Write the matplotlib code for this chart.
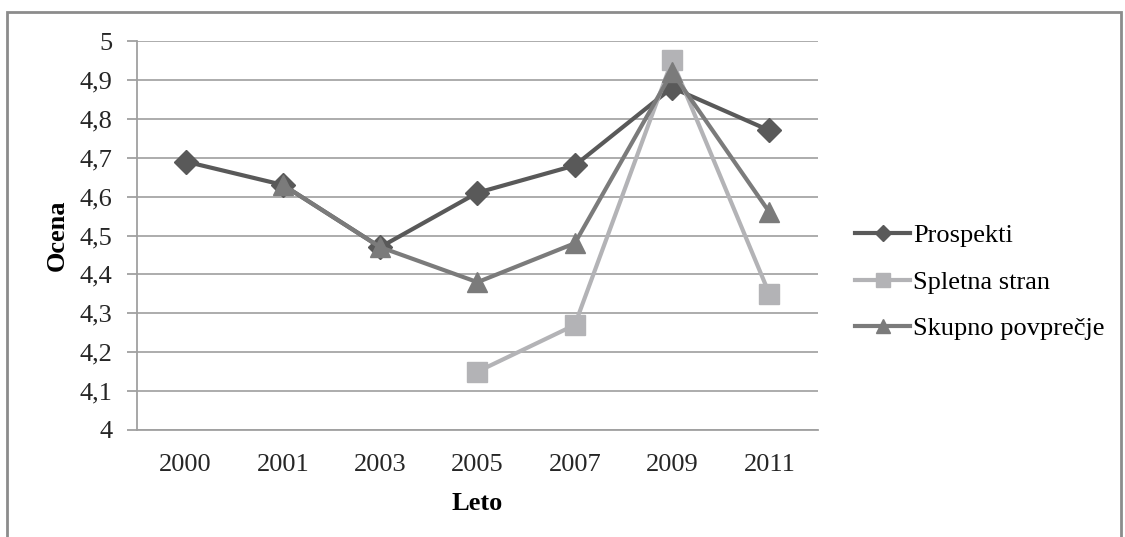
import numpy as np
import matplotlib
matplotlib.use("Agg")
import matplotlib.pyplot as plt
from matplotlib.patches import Rectangle
from matplotlib.ticker import FuncFormatter, MultipleLocator

plt.rcParams['font.family'] = ['Liberation Serif', 'DejaVu Serif']

years = ["2000", "2001", "2003", "2005", "2007", "2009", "2011"]
prospekti = [4.69, 4.63, 4.47, 4.61, 4.68, 4.88, 4.77]
spletna_stran = [np.nan, np.nan, np.nan, 4.15, 4.27, 4.95, 4.35]
skupno_povprecje = [np.nan, 4.63, 4.47, 4.38, 4.48, 4.92, 4.56]

fig = plt.figure(figsize=(11.25, 5.37), dpi=100)
ax = fig.add_axes([137 / 1125, 1 - 430 / 537, (818 - 137) / 1125, (430 - 41) / 537])

x = np.arange(len(years))
ax.plot(x, prospekti, color='#595959', lw=3.0, marker='D', ms=12, label='Prospekti', zorder=3)
ax.plot(x, spletna_stran, color='#b3b3b6', lw=3.0, marker='s', ms=14, label='Spletna stran', zorder=4)
ax.plot(x, skupno_povprecje, color='#7b7b7b', lw=3.0, marker='^', ms=15, label='Skupno povprečje', zorder=5)

ax.set_xlim(-0.5, len(years) - 0.5)
ax.set_ylim(4, 5)
ax.set_xticks(x)
ax.set_xticklabels(years)
ax.yaxis.set_major_locator(MultipleLocator(0.1))
ax.yaxis.set_major_formatter(FuncFormatter(lambda v, p: f"{v:.1f}".replace('.', ',').replace(',0', '')))

ax.grid(axis='y', color='#a6a6a6', lw=1.3)
ax.set_axisbelow(True)
for s in ('top', 'right'):
    ax.spines[s].set_visible(False)
for s in ('left', 'bottom'):
    ax.spines[s].set_color('#a0a0a0')
    ax.spines[s].set_linewidth(1.3)
ax.tick_params(axis='y', length=7.5, width=1.3, color='#a0a0a0', labelsize=19, pad=10, labelcolor='#262626')
ax.tick_params(axis='x', length=0, labelsize=19, pad=17, labelcolor='#262626')

ax.set_ylabel('Ocena', fontsize=19, fontweight='bold', labelpad=8)
ax.set_xlabel('Leto', fontsize=19, fontweight='bold', labelpad=12)

leg = fig.legend(loc='center left', bbox_to_anchor=(855 / 1125, 1 - 282 / 537), frameon=False,
                 fontsize=19, handlelength=2.1, handletextpad=0.1, labelspacing=0.88,
                 borderaxespad=0, borderpad=0, markerscale=0.7)

fig.patches.append(Rectangle((7 / 1125, -0.1), (1121 - 7) / 1125, 1.1 - 12 / 537,
                             transform=fig.transFigure, fill=False, edgecolor='#8c8c8c', lw=2))

fig.savefig('out.png', dpi=100)
